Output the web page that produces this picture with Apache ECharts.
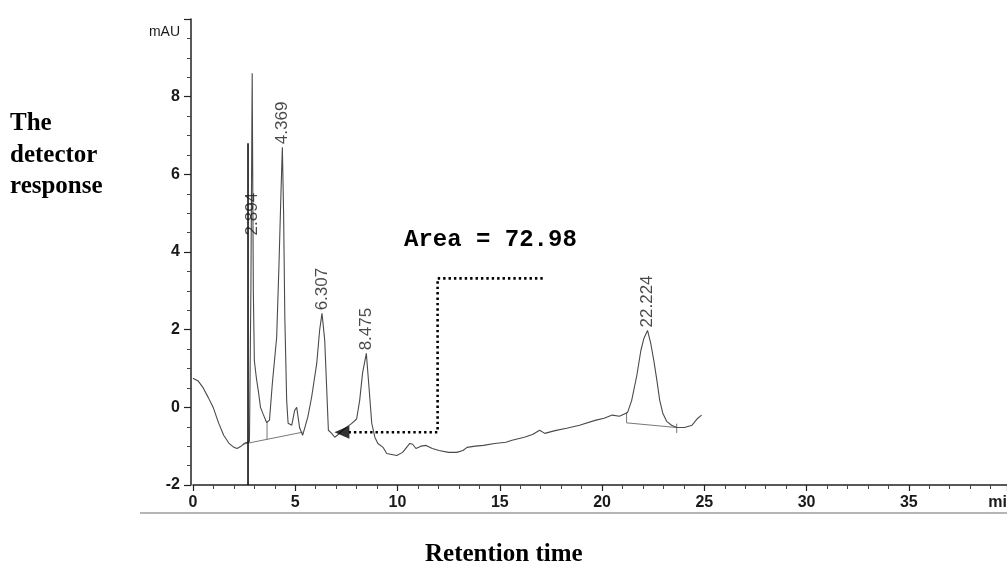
<!DOCTYPE html>
<html>
<head>
<meta charset="utf-8">
<script src="https://cdn.jsdelivr.net/npm/echarts@6/dist/echarts.min.js"></script>
<style>
  html, body { margin: 0; padding: 0; background: #fff; }
  #chart { width: 1007px; height: 562px; }
</style>
</head>
<body>
<div id="chart"></div>
<script>
// Chromatogram trace: retention time (min) and detector signal (mAU)
const traceTime = [
  0.0, 0.25, 0.5, 0.75, 1.0, 1.25, 1.5, 1.75, 2.0, 2.15, 2.35, 2.55, 2.76,
  2.83, 2.894, 2.95, 3.0, 3.1, 3.2, 3.3, 3.41, 3.6, 3.74, 3.88, 4.09, 4.2, 4.3,
  4.369, 4.43, 4.49, 4.58, 4.65, 4.83, 4.97, 5.07, 5.21, 5.36, 5.61, 5.8, 6.05,
  6.19, 6.307, 6.44, 6.54, 6.62, 6.78, 6.93, 7.1, 7.4, 7.75, 8.0, 8.15, 8.29,
  8.475, 8.59, 8.74, 8.89, 9.04, 9.29, 9.47, 9.96, 10.25, 10.6, 10.74, 10.9,
  11.15, 11.4, 11.7, 12.03, 12.5, 12.9, 13.2, 13.4, 13.8, 14.2, 14.75, 15.3,
  15.6, 16.2, 16.6, 16.95, 17.2, 17.7, 18.27, 18.9, 19.7, 20.1, 20.5, 20.85,
  21.25, 21.45, 21.7, 21.9, 22.05, 22.224, 22.38, 22.53, 22.68, 22.82, 22.97,
  23.16, 23.4, 23.65, 24.03, 24.4, 24.68, 24.87
];
const traceSignal = [
  0.75, 0.68, 0.5, 0.25, -0.02, -0.4, -0.72, -0.92, -1.03, -1.06, -1.0, -0.92, -0.88,
  3.0, 8.6, 3.0, 1.2, 0.75, 0.4, 0.0, -0.15, -0.39, -0.33, 0.62, 1.8, 3.6, 5.5,
  6.7, 5.0, 2.3, 0.18, -0.41, -0.46, -0.08, 0.0, -0.52, -0.72, -0.26, 0.26, 1.13,
  1.98, 2.42, 1.73, 0.44, -0.59, -0.67, -0.77, -0.7, -0.55, -0.42, -0.3, 0.18, 0.88,
  1.39, 0.62, -0.41, -0.77, -0.93, -1.03, -1.19, -1.24, -1.16, -0.93, -0.95, -1.06,
  -1.0, -0.98, -1.06, -1.11, -1.16, -1.16, -1.11, -1.03, -1.0, -0.98, -0.93, -0.9,
  -0.85, -0.77, -0.7, -0.59, -0.67, -0.6, -0.54, -0.46, -0.33, -0.28, -0.2, -0.23,
  -0.13, 0.18, 0.82, 1.47, 1.78, 1.98, 1.65, 1.21, 0.7, 0.18, -0.15,
  -0.36, -0.46, -0.52, -0.52, -0.46, -0.28, -0.2
];

// Injection marker
const injectionTime = 2.69;
const injectionTop = 6.8;

// Integration baselines and drop lines, as [time, signal] segments
const baselineSegments = [
  [[2.43, -0.95], [5.36, -0.64]],
  [[3.62, -0.37], [3.62, -0.83]],
  [[21.2, -0.13], [21.2, -0.4], [23.65, -0.52]],
  [[23.65, -0.42], [23.65, -0.66]]
];

// Peak retention-time labels
const peakTimes = [2.894, 4.369, 6.307, 8.475, 22.224];
const peakLabelLevel = [4.35, 6.7, 2.42, 1.39, 1.98];

// Callout for the integrated area
const areaText = 'Area = 72.98';
const calloutPath = [[17.1, 3.32], [11.96, 3.32], [11.96, -0.64], [7.62, -0.64]];
const arrowHead = [7.28, -0.64];

// Axis ranges
const xRange = [0, 39.8];
const yRange = [-2, 10];

const chart = echarts.init(document.getElementById('chart'), null, { renderer: 'canvas' });

const tickFont = '"Liberation Sans Narrow", "Arial Narrow", "Liberation Sans", Arial, sans-serif';
const axisColor = '#222';

const baselineSeries = baselineSegments.map(seg => ({
  type: 'line',
  data: seg,
  symbol: 'none',
  silent: true,
  lineStyle: { color: '#777', width: 1 },
  z: 3
}));

const option = {
  animation: false,
  backgroundColor: '#fff',
  grid: { left: 193, right: 0, top: 19, bottom: 77, containLabel: false, outerBoundsMode: 'none' },
  xAxis: {
    type: 'value',
    min: xRange[0],
    max: xRange[1],
    interval: 5,
    axisLine: { show: true, onZero: false, lineStyle: { color: axisColor, width: 1.5 } },
    axisTick: { show: true, inside: false, length: 6, lineStyle: { color: axisColor, width: 1.2 } },
    minorTick: { show: true, splitNumber: 5, length: 4, lineStyle: { color: '#444', width: 1 } },
    splitLine: { show: false },
    axisLabel: {
      show: true,
      showMaxLabel: true,
      margin: 10,
      color: '#1a1a1a',
      fontFamily: tickFont,
      fontWeight: 'bold',
      fontSize: 16,
      formatter: v => (v > 39 ? '{u|min}' : String(v)),
      rich: {
        u: { fontFamily: tickFont, fontSize: 16, fontWeight: 'bold', color: '#1a1a1a', padding: [0, 9, 0, 0] }
      }
    }
  },
  yAxis: {
    type: 'value',
    min: yRange[0],
    max: yRange[1],
    interval: 2,
    offset: 2,
    axisLine: { show: true, onZero: false, lineStyle: { color: axisColor, width: 1.5 } },
    axisTick: { show: true, inside: false, length: 7, lineStyle: { color: axisColor, width: 1.2 } },
    minorTick: { show: true, splitNumber: 4, length: 4, lineStyle: { color: '#444', width: 1 } },
    splitLine: { show: false },
    axisLabel: {
      show: true,
      margin: 11,
      color: '#1a1a1a',
      fontFamily: tickFont,
      fontWeight: 'bold',
      fontSize: 16,
      formatter: v => (v === 10 ? '{u|mAU}' : String(v)),
      rich: {
        u: { fontFamily: tickFont, fontSize: 14, fontWeight: 'normal', color: '#1a1a1a', padding: [26, 0, 0, 0] }
      }
    }
  },
  graphic: [
    {
      type: 'line',
      silent: true,
      shape: { x1: 140, y1: 513, x2: 1007, y2: 513 },
      style: { stroke: '#b5b5b5', lineWidth: 2 }
    },
    {
      type: 'text',
      left: 10,
      top: 108,
      style: {
        text: 'The\ndetector\nresponse',
        font: 'bold 25px "Liberation Serif", "Times New Roman", serif',
        lineHeight: 31.5,
        fill: '#000'
      }
    },
    {
      type: 'text',
      left: 425,
      top: 542,
      style: {
        text: 'Retention time',
        font: 'bold 25px "Liberation Serif", "Times New Roman", serif',
        fill: '#000'
      }
    },
    {
      type: 'text',
      left: 404,
      top: 228,
      style: {
        text: areaText,
        font: 'bold 24px "Liberation Mono", "Courier New", monospace',
        fill: '#000'
      }
    }
  ],
  series: [
    {
      name: 'trace',
      type: 'line',
      data: traceTime.map((t, i) => [t, traceSignal[i]]),
      symbol: 'none',
      smooth: false,
      silent: true,
      lineStyle: { color: '#4a4a4a', width: 1.1 },
      z: 4
    },
    {
      name: 'injection',
      type: 'line',
      data: [[injectionTime, yRange[0]], [injectionTime, injectionTop]],
      symbol: 'none',
      silent: true,
      lineStyle: { color: '#111', width: 1.6 },
      z: 5
    },
    ...baselineSeries,
    {
      name: 'peaks',
      type: 'scatter',
      data: peakTimes.map((t, i) => ({ value: [t, peakLabelLevel[i]], name: String(t) })),
      symbolSize: 0,
      silent: true,
      label: {
        show: true,
        position: 'top',
        distance: 3,
        rotate: 90,
        align: 'left',
        verticalAlign: 'middle',
        formatter: p => p.name,
        color: '#1a1a1a',
        fontFamily: '"Liberation Sans", Arial, sans-serif',
        fontSize: 17
      },
      z: 6
    },
    {
      name: 'callout',
      type: 'line',
      data: calloutPath,
      symbol: 'none',
      silent: true,
      lineStyle: { color: '#000', width: 2.6, type: [2.4, 3], cap: 'butt' },
      z: 7
    },
    {
      name: 'arrow',
      type: 'scatter',
      data: [arrowHead],
      symbol: 'triangle',
      symbolSize: [13, 15],
      symbolRotate: 90,
      silent: true,
      itemStyle: { color: '#000' },
      z: 8
    }
  ]
};

chart.setOption(option);
</script>
</body>
</html>
